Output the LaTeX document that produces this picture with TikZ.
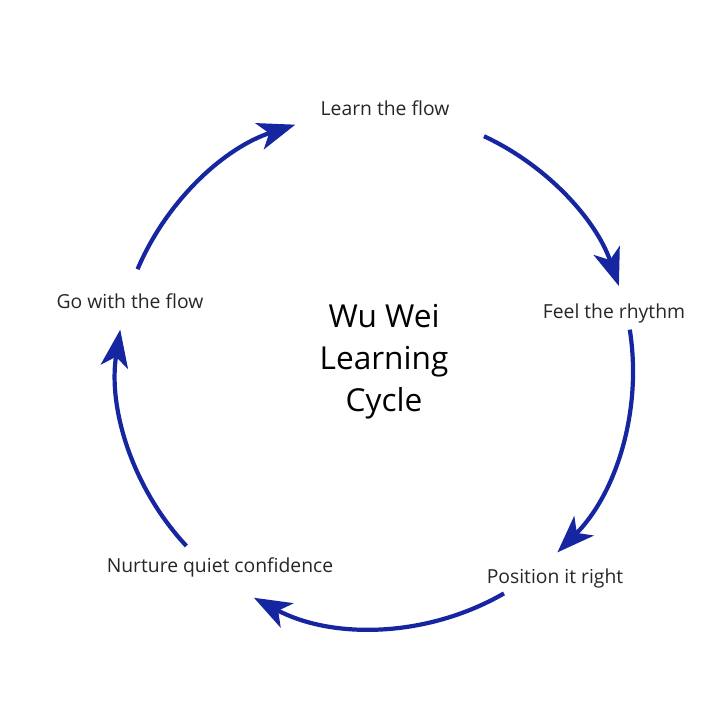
\documentclass[tikz,border=0pt]{standalone}
\usepackage{fontspec}
\setmainfont{Open Sans}
\usetikzlibrary{arrows.meta}
\definecolor{flowblue}{RGB}{22,38,160}
\tikzset{
  flow/.style = {-{Stealth[length=0.75cm,width=0.55cm,inset=0.2cm]}, line width=2.4pt, flowblue},
  stage/.style = {font=\fontsize{11}{14}\selectfont, text=black!85},
}
\begin{document}
\begin{tikzpicture}[x=0.02cm, y=-0.02cm]
  \useasboundingbox (0,0) rectangle (720,720);

  \coordinate (c) at (375,370);

  \node [align=center, font=\fontsize{18}{24}\selectfont] (title) at (384,362)
        {Wu Wei\\Learning\\Cycle};

  \node [stage] (learn)    at (385,108) {Learn the flow};
  \node [stage] (feel)     at (614,313) {Feel the rhythm};
  \node [stage] (position) at (555,578) {Position it right};
  \node [stage] (nurture)  at (220,567) {Nurture quiet confidence};
  \node [stage] (go)       at (130,301) {Go with the flow};

  \draw [flow] (c) ++(65:5.16cm)    arc [start angle=65,  end angle=19,  radius=5.16cm];
  \draw [flow] (c) ++(9:5.16cm)     arc [start angle=9,   end angle=-45, radius=5.16cm];
  \draw [flow] (c) ++(-60:5.16cm)   arc [start angle=-60, end angle=-118,radius=5.16cm];
  \draw [flow] (c) ++(-137:5.16cm)  arc [start angle=-137,end angle=-189,radius=5.16cm];
  \draw [flow] (c) ++(157:5.16cm)   arc [start angle=157, end angle=108, radius=5.16cm];
\end{tikzpicture}
\end{document}
